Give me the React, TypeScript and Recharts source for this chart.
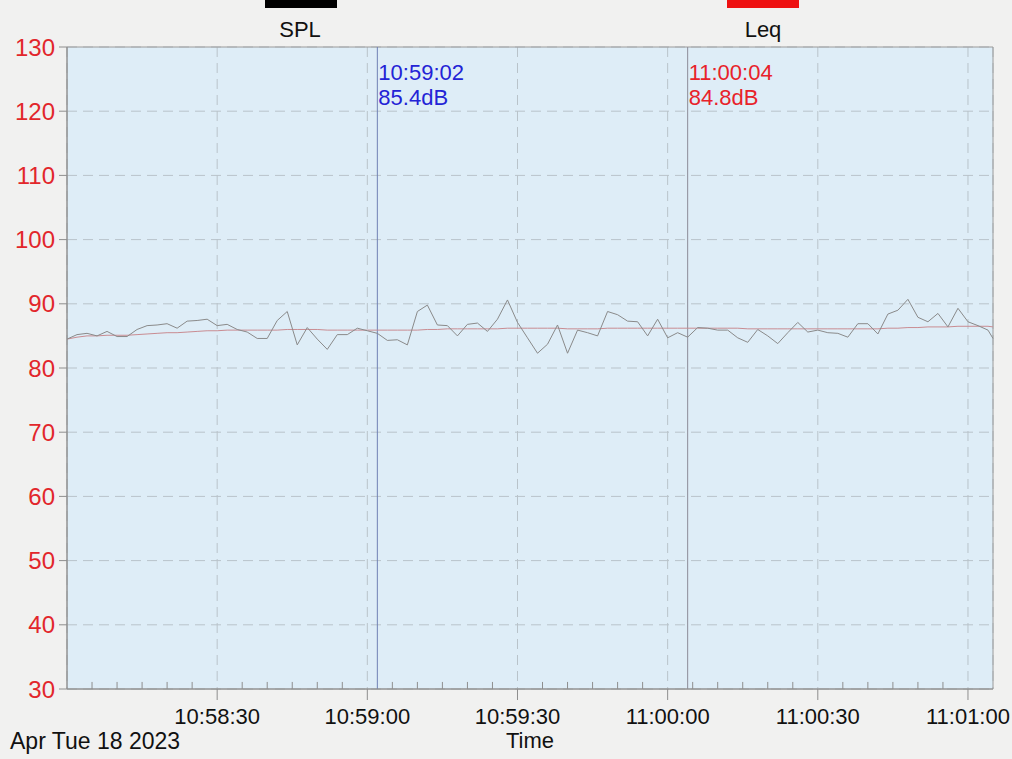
import React from "react";
import {
  LineChart,
  Line,
  XAxis,
  YAxis,
  CartesianGrid,
  ReferenceLine,
  ReferenceArea,
} from "recharts";

// seconds after 10:58:00
const times = [
  0, 2, 4, 6, 8, 10, 12, 14, 16, 18, 20, 22, 24, 26, 28, 30, 32, 34, 36, 38,
  40, 42, 44, 46, 48, 50, 52, 54, 56, 58, 60, 62, 64, 66, 68, 70, 72, 74, 76,
  78, 80, 82, 84, 86, 88, 90, 92, 94, 96, 98, 100, 102, 104, 106, 108, 110,
  112, 114, 116, 118, 120, 122, 124, 126, 128, 130, 132, 134, 136, 138, 140,
  142, 144, 146, 148, 150, 152, 154, 156, 158, 160, 162, 164, 166, 168, 170,
  172, 174, 176, 178, 180, 182, 184, 185,
];

const splValues = [
  84.5, 85.2, 85.4, 85.0, 85.7, 84.9, 84.9, 86.0, 86.6, 86.7,
  86.9, 86.2, 87.3, 87.4, 87.6, 86.6, 86.8, 86.0, 85.6, 84.6,
  84.6, 87.4, 88.8, 83.6, 86.3, 84.5, 82.9, 85.2, 85.2, 86.2,
  85.8, 85.4, 84.3, 84.4, 83.6, 88.8, 89.8, 86.7, 86.6, 85.0,
  86.8, 87.0, 85.7, 87.6, 90.6, 87.1, 84.7, 82.3, 83.7, 86.7,
  82.3, 85.9, 85.5, 85.0, 88.8, 88.3, 87.3, 87.2, 85.0, 87.6,
  84.7, 85.5, 84.8, 86.3, 86.2, 85.9, 85.9, 84.7, 84.0, 86.0,
  85.0, 83.8, 85.5, 87.1, 85.6, 85.9, 85.5, 85.4, 84.8, 86.9,
  86.9, 85.3, 88.4, 89.0, 90.7, 87.9, 87.2, 88.5, 86.4, 89.3,
  87.2, 86.6, 85.9, 84.6,
];

const leqValues = [
  84.5, 84.8, 85.0, 85.0, 85.1, 85.1, 85.1, 85.2, 85.3, 85.4,
  85.5, 85.5, 85.6, 85.7, 85.8, 85.8, 85.9, 85.9, 85.9, 85.9,
  85.9, 85.9, 86.0, 86.0, 86.0, 86.0, 85.9, 85.9, 85.9, 85.9,
  85.9, 85.9, 85.9, 85.9, 85.9, 85.9, 86.0, 86.0, 86.1, 86.1,
  86.1, 86.1, 86.1, 86.1, 86.2, 86.2, 86.2, 86.2, 86.2, 86.2,
  86.1, 86.1, 86.1, 86.1, 86.2, 86.2, 86.2, 86.2, 86.2, 86.2,
  86.2, 86.2, 86.2, 86.2, 86.2, 86.2, 86.2, 86.2, 86.1, 86.1,
  86.1, 86.1, 86.1, 86.1, 86.1, 86.1, 86.1, 86.1, 86.1, 86.1,
  86.1, 86.1, 86.2, 86.2, 86.3, 86.3, 86.4, 86.4, 86.4, 86.5,
  86.5, 86.5, 86.5, 86.4,
];

const majorTicks = [30, 60, 90, 120, 150, 180];
const majorTickLabels = ["10:58:30", "10:59:00", "10:59:30", "11:00:00", "11:00:30", "11:01:00"];
const minorTicks = [
  5, 10, 15, 20, 25, 35, 40, 45, 50, 55, 65, 70, 75, 80, 85, 95, 100, 105, 110,
  115, 125, 130, 135, 140, 145, 155, 160, 165, 170, 175,
];
const yTicks = [30, 40, 50, 60, 70, 80, 90, 100, 110, 120, 130];

const cursorA = { t: 62, time: "10:59:02", value: "85.4dB" };
const cursorB = { t: 124, time: "11:00:04", value: "84.8dB" };

const rows = times.map((t, i) => ({ t, spl: splValues[i], leq: leqValues[i] }));

const FONT = '"Liberation Sans", Arial, sans-serif';

const cursorLabel = (text1: string, text2: string, color: string) => (props: any) => {
  const vb = props.viewBox || {};
  const x = (vb.x ?? 0) + 1;
  const y = vb.y ?? 0;
  return (
    <g>
      <text x={x} y={y + 33} fill={color} fontSize={22} fontFamily={FONT}>
        {text1}
      </text>
      <text x={x} y={y + 58} fill={color} fontSize={22} fontFamily={FONT}>
        {text2}
      </text>
    </g>
  );
};

export default function App() {
  return (
    <div
      style={{
        position: "absolute",
        left: 0,
        top: 0,
        width: 1012,
        height: 759,
        background: "#f1f1f0",
        fontFamily: FONT,
        overflow: "hidden",
      }}
    >
      <LineChart
        width={1012}
        height={759}
        data={rows}
        margin={{ top: 47, right: 19, bottom: 0, left: 0 }}
      >
        <XAxis
          dataKey="t"
          type="number"
          domain={[0, 185]}
          ticks={majorTicks}
          tickFormatter={(v: number) => majorTickLabels[majorTicks.indexOf(v)] ?? ""}
          height={70}
          tickSize={11}
          tickMargin={8}
          axisLine={{ stroke: "#8e8e8e" }}
          tickLine={{ stroke: "#8e8e8e" }}
          tick={{ fill: "#111", fontSize: 22, fontFamily: FONT }}
        />
        <YAxis
          type="number"
          domain={[30, 130]}
          ticks={yTicks}
          width={67}
          tickSize={8}
          tickMargin={4}
          axisLine={{ stroke: "#8e8e8e" }}
          tickLine={{ stroke: "#8e8e8e" }}
          tick={{ fill: "#e2262b", fontSize: 24, fontFamily: FONT }}
        />
        <CartesianGrid
          stroke="#b9c3ca"
          strokeDasharray="10 6"
          fill="#deedf7"
          fillOpacity={1}
        />
        <ReferenceArea
          x1={0}
          x2={185}
          y1={30}
          y2={130}
          fill="#ffffff"
          fillOpacity={0}
          stroke="#9a9a9a"
          strokeWidth={1}
          ifOverflow="visible"
        />
        {minorTicks.map((t) => (
          <ReferenceLine
            key={t}
            segment={[
              { x: t, y: 30 },
              { x: t, y: 31.1 },
            ]}
            stroke="#8e8e8e"
            strokeWidth={1}
          />
        ))}
        <ReferenceLine
          x={cursorA.t}
          stroke="#6f80b4"
          strokeWidth={1}
          label={cursorLabel(cursorA.time, cursorA.value, "#2323d6")}
        />
        <ReferenceLine
          x={cursorB.t}
          stroke="#8c8c98"
          strokeWidth={1}
          label={cursorLabel(cursorB.time, cursorB.value, "#e8222a")}
        />
        <Line
          type="linear"
          dataKey="leq"
          stroke="#c98c92"
          strokeWidth={1}
          dot={false}
          isAnimationActive={false}
        />
        <Line
          type="linear"
          dataKey="spl"
          stroke="#8a8a8a"
          strokeWidth={1}
          dot={false}
          isAnimationActive={false}
        />
      </LineChart>

      {/* legend */}
      <div style={{ position: "absolute", left: 265, top: 0, width: 72, height: 8, background: "#000" }} />
      <div style={{ position: "absolute", left: 250, top: 17, width: 100, textAlign: "center", fontSize: 22, color: "#111" }}>
        SPL
      </div>
      <div style={{ position: "absolute", left: 727, top: 0, width: 72, height: 8, background: "#e11" }} />
      <div style={{ position: "absolute", left: 713, top: 17, width: 100, textAlign: "center", fontSize: 22, color: "#111" }}>
        Leq
      </div>

      {/* footer */}
      <div style={{ position: "absolute", left: 10, top: 728, fontSize: 23, color: "#111", whiteSpace: "nowrap" }}>
        Apr Tue 18 2023
      </div>
      <div style={{ position: "absolute", left: 480, top: 728, width: 100, textAlign: "center", fontSize: 22, color: "#111" }}>
        Time
      </div>
    </div>
  );
}
